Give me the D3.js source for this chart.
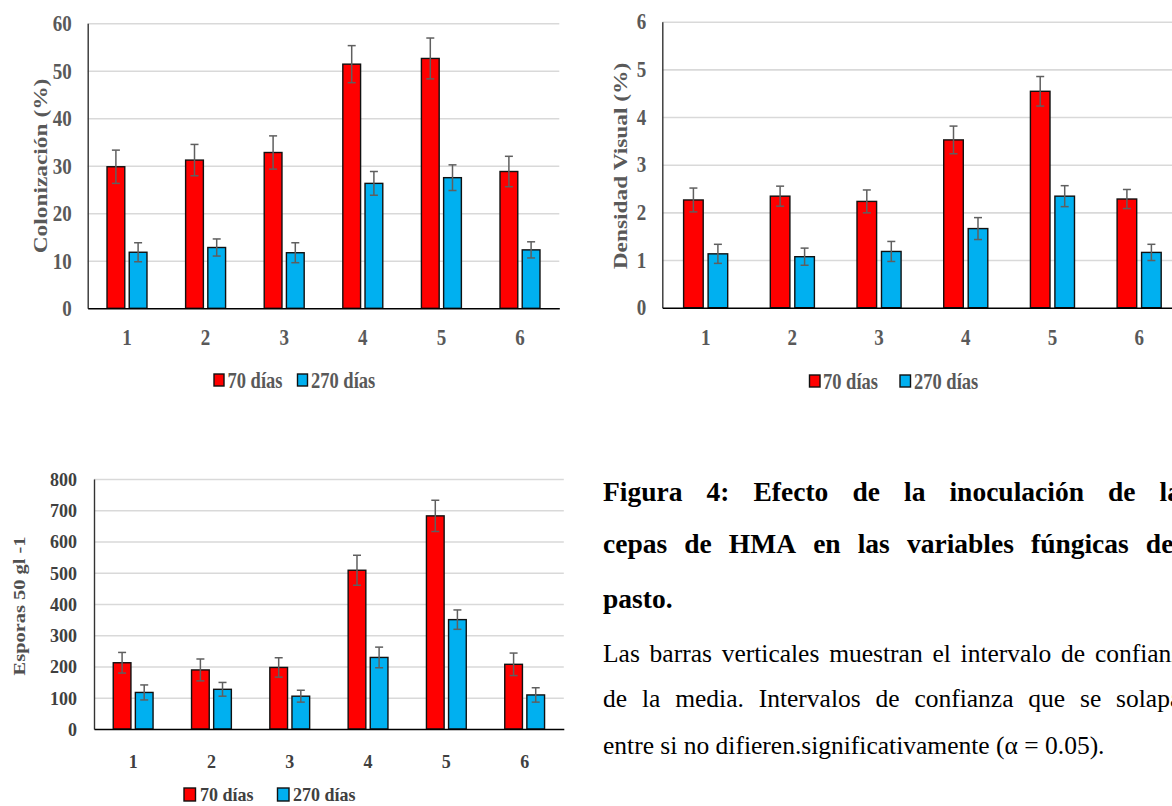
<!DOCTYPE html>
<html>
<head>
<meta charset="utf-8">
<script src="https://cdn.jsdelivr.net/npm/d3@7"></script>
<style>
  html, body { margin: 0; padding: 0; background: #fff; }
  svg { display: block; }
</style>
</head>
<body>
<script>
// ---------- DATA ----------
const categories = ["1", "2", "3", "4", "5", "6"];
const seriesNames = ["70 días", "270 días"];
const seriesColors = ["#FF0000", "#00B0F0"];

// Colonización (%)
const colon70 = [29.8, 31.2, 32.8, 51.4, 52.6, 28.8];
const colon70Err = [3.5, 3.3, 3.5, 3.9, 4.3, 3.2];
const colon270 = [11.8, 12.8, 11.7, 26.3, 27.5, 12.3];
const colon270Err = [2.0, 1.8, 2.1, 2.5, 2.7, 1.7];
const colonTicks = [0, 10, 20, 30, 40, 50, 60];

// Densidad Visual (%)
const dens70 = [2.26, 2.34, 2.23, 3.52, 4.54, 2.28];
const dens70Err = [0.25, 0.21, 0.24, 0.29, 0.31, 0.20];
const dens270 = [1.13, 1.07, 1.18, 1.66, 2.34, 1.16];
const dens270Err = [0.20, 0.18, 0.21, 0.23, 0.22, 0.17];
const densTicks = [0, 1, 2, 3, 4, 5, 6];

// Esporas 50 gl -1
const esp70 = [212, 189, 197, 508, 682, 207];
const esp70Err = [33, 35, 31, 48, 50, 36];
const esp270 = [117, 127, 105, 229, 350, 109];
const esp270Err = [24, 22, 19, 33, 31, 23];
const espTicks = [0, 100, 200, 300, 400, 500, 600, 700, 800];

// Caption
const captionTitle = [
  "Figura 4: Efecto de la inoculación de la",
  "cepas de HMA en las variables fúngicas del",
  "pasto."
];
const captionBody = [
  "Las barras verticales muestran el intervalo de confianza",
  "de la media. Intervalos de confianza que se solapan",
  "entre si no difieren.significativamente (α = 0.05)."
];

// ---------- DRAW ----------
const W = 1172, H = 806;
const FONT = "Liberation Serif, Times New Roman, serif";
const svg = d3.select("body").append("svg").attr("width", W).attr("height", H);
svg.append("rect").attr("width", W).attr("height", H).attr("fill", "#fff");

function stext(g, x, y, str, o) {
  return g.append("text")
    .attr("transform", `translate(${x},${y}) scale(1,${o.sy})`)
    .attr("dy", "0.35em")
    .attr("text-anchor", o.anchor || "start")
    .attr("font-family", FONT).attr("font-weight", "bold")
    .attr("font-size", o.size).attr("fill", o.color)
    .text(str);
}

function chart(c) {
  const g = svg.append("g");
  const plotW = c.band * categories.length;
  const x0 = d3.scaleBand().domain(categories).range([c.left, c.left + plotW]).padding(0);
  const x1 = d3.scaleBand().domain(seriesNames).range([0, x0.bandwidth()])
    .paddingInner(0.2).paddingOuter(0.87);
  const y = d3.scaleLinear().domain([0, c.ticks[c.ticks.length - 1]]).range([c.y0, c.yTop]);

  // gridlines
  g.append("g").attr("transform", `translate(${c.left},0)`)
    .call(d3.axisLeft(y).tickValues(c.ticks.slice(1)).tickSize(-plotW).tickFormat(""))
    .call(a => a.select(".domain").remove())
    .call(a => a.selectAll("line").attr("stroke", "#d9d9d9").attr("stroke-width", 1.6));

  const vals = [c.v70, c.v270], errs = [c.e70, c.e270];
  // bars
  seriesNames.forEach((s, si) => {
    g.append("g").selectAll("rect").data(categories).join("rect")
      .attr("x", (d) => x0(d) + x1(s))
      .attr("y", (d, i) => y(vals[si][i]))
      .attr("width", x1.bandwidth())
      .attr("height", (d, i) => y(0) - y(vals[si][i]))
      .attr("fill", seriesColors[si])
      .attr("stroke", "#111").attr("stroke-width", 1.4);
  });
  // error bars
  seriesNames.forEach((s, si) => {
    const eg = g.append("g").attr("stroke", "#5f5f5f").attr("stroke-width", 1.5);
    categories.forEach((d, i) => {
      const cx = x0(d) + x1(s) + x1.bandwidth() / 2;
      const top = y(vals[si][i] + errs[si][i]), bot = y(vals[si][i] - errs[si][i]);
      eg.append("line").attr("x1", cx).attr("x2", cx).attr("y1", top).attr("y2", bot);
      eg.append("line").attr("x1", cx - 4).attr("x2", cx + 4).attr("y1", top).attr("y2", top);
      eg.append("line").attr("x1", cx - 4).attr("x2", cx + 4).attr("y1", bot).attr("y2", bot);
    });
  });

  // y axis (labels + axis line)
  g.append("g").attr("transform", `translate(${c.left},0)`)
    .call(d3.axisLeft(y).tickValues(c.ticks).tickFormat(d3.format("d")).tickSize(0).tickPadding(c.tickPad))
    .call(a => a.select(".domain").attr("stroke", "#333").attr("stroke-width", 1.4))
    .call(a => a.selectAll("text")
      .attr("font-family", FONT).attr("font-weight", "bold")
      .attr("font-size", c.size).attr("fill", c.color)
      .attr("transform", `scale(1,${c.sy})`));

  // x axis
  g.append("g").attr("transform", `translate(0,${c.y0})`)
    .call(d3.axisBottom(x0).tickSize(0).tickSizeOuter(0))
    .call(a => a.select(".domain").attr("stroke", "#000").attr("stroke-width", 1.6))
    .call(a => a.selectAll("text")
      .attr("y", null).attr("dy", "0.35em")
      .attr("font-family", FONT).attr("font-weight", "bold")
      .attr("font-size", c.size).attr("fill", c.color)
      .attr("transform", `translate(0,${c.labelOff}) scale(1,${c.sy})`));

  // y title
  g.append("text")
    .attr("transform", `translate(${c.titleX},${c.titleY}) rotate(-90) scale(${c.titleSy},1)`)
    .attr("dy", "0.35em").attr("text-anchor", "middle")
    .attr("font-family", FONT).attr("font-weight", "bold")
    .attr("font-size", c.titleSize).attr("fill", c.titleColor)
    .text(c.title);

  // legend
  seriesNames.forEach((s, si) => {
    g.append("rect")
      .attr("x", c.legend[si * 2]).attr("y", c.legendY - c.sqH / 2)
      .attr("width", c.sqW).attr("height", c.sqH)
      .attr("fill", seriesColors[si]).attr("stroke", "#111").attr("stroke-width", 1.4);
    stext(g, c.legend[si * 2 + 1], c.legendY, s, { sy: c.sy, size: c.legendSize, color: c.color });
  });
}

chart({
  left: 87.7, band: 78.6, y0: 308.3, yTop: 23.3, ticks: colonTicks,
  v70: colon70, e70: colon70Err, v270: colon270, e270: colon270Err,
  size: 19, sy: 1.2, color: "#595959", tickPad: 16, labelOff: 29,
  title: "Colonización (%)", titleX: 40, titleY: 166, titleSize: 19.5, titleSy: 1.2, titleColor: "#595959",
  legendY: 380, legend: [214, 227.5, 297.5, 311], sqW: 10, sqH: 12, legendSize: 18.5
});

chart({
  left: 662.3, band: 86.7, y0: 307.7, yTop: 21.7, ticks: densTicks,
  v70: dens70, e70: dens70Err, v270: dens270, e270: dens270Err,
  size: 19, sy: 1.2, color: "#595959", tickPad: 16, labelOff: 29.3,
  title: "Densidad Visual (%)", titleX: 620, titleY: 166, titleSize: 19.5, titleSy: 1.2, titleColor: "#595959",
  legendY: 381, legend: [809.5, 823, 900, 914], sqW: 10.5, sqH: 12, legendSize: 18.5
});

chart({
  left: 94, band: 78.3, y0: 729, yTop: 479, ticks: espTicks,
  v70: esp70, e70: esp70Err, v270: esp270, e270: esp270Err,
  size: 18, sy: 1.1, color: "#404040", tickPad: 17, labelOff: 32.5,
  title: "Esporas 50 gl -1", titleX: 19, titleY: 606, titleSize: 17, titleSy: 1.2, titleColor: "#505050",
  legendY: 794.5, legend: [184, 200, 277.5, 293], sqW: 11.5, sqH: 13, legendSize: 18
});

// ---------- CAPTION ----------
function justLine(str, x, yc, right, size, weight, justify) {
  const words = str.split(" ");
  const t = svg.append("text")
    .attr("font-family", FONT).attr("font-weight", weight)
    .attr("font-size", size).attr("fill", "#000")
    .attr("y", yc).attr("dy", "0.35em");
  const spans = words.map(w => t.append("tspan").text(w));
  const widths = spans.map(s => s.node().getComputedTextLength());
  const tmp = t.append("tspan").text("a a");
  const tmp2 = t.append("tspan").text("aa");
  const space = tmp.node().getComputedTextLength() - tmp2.node().getComputedTextLength();
  tmp.remove(); tmp2.remove();
  const total = d3.sum(widths);
  const gap = justify && words.length > 1 ? (right - x - total) / (words.length - 1) : space;
  let cx = x;
  spans.forEach((s, i) => { s.attr("x", cx); cx += widths[i] + gap; });
}

captionTitle.forEach((line, i) => {
  justLine(line, 603, [491, 543, 598][i], 1181, 27.5, "bold", i < 2);
});
captionBody.forEach((line, i) => {
  justLine(line, 603, [653, 698, 745][i], 1194, 25.5, "normal", i < 2);
});
</script>
</body>
</html>
